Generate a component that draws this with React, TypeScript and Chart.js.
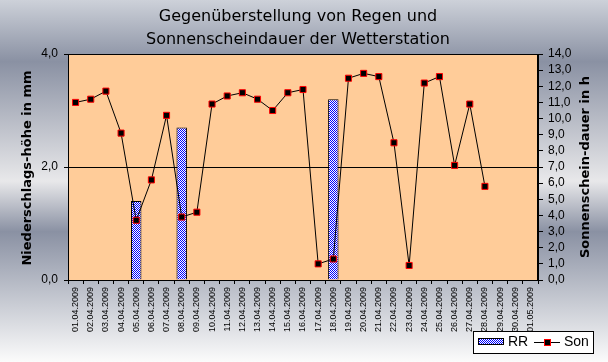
import React, { useEffect, useRef } from 'react';
import { Chart, registerables } from 'chart.js';

Chart.register(...registerables);

const titleLines = ['Gegenüberstellung von Regen und', 'Sonnenscheindauer der Wetterstation'];
const leftAxisTitle = 'Niederschlags-höhe in mm';
const rightAxisTitle = 'Sonnenschein-dauer in h';

const categories = [
  '01.04.2009', '02.04.2009', '03.04.2009', '04.04.2009', '05.04.2009', '06.04.2009',
  '07.04.2009', '08.04.2009', '09.04.2009', '10.04.2009', '11.04.2009', '12.04.2009',
  '13.04.2009', '14.04.2009', '15.04.2009', '16.04.2009', '17.04.2009', '18.04.2009',
  '19.04.2009', '20.04.2009', '21.04.2009', '22.04.2009', '23.04.2009', '24.04.2009',
  '25.04.2009', '26.04.2009', '27.04.2009', '28.04.2009', '29.04.2009', '30.04.2009',
  '01.05.2009',
];

const rainMm: (number | null)[] = [
  null, null, null, null, 1.4, null, null, 2.7, null, null, null, null, null, null, null, null,
  null, 3.2, null, null, null, null, null, null, null, null, null, null, null, null, null,
];

const sunHours: (number | null)[] = [
  11.0, 11.2, 11.7, 9.1, 3.7, 6.2, 10.2, 3.9, 4.2, 10.9, 11.4, 11.6, 11.2, 10.5, 11.6, 11.8,
  1.0, 1.3, 12.5, 12.8, 12.6, 8.5, 0.9, 12.2, 12.6, 7.1, 10.9, 5.8, null, null, null,
];

const seriesNames = ['RR', 'Son'];

const FONT = "'Liberation Sans', Arial, sans-serif";
const WIDE = "'DejaVu Sans', 'Liberation Sans', sans-serif";

function makePattern(): CanvasPattern | string {
  const c = document.createElement('canvas');
  c.width = 2;
  c.height = 2;
  const g = c.getContext('2d');
  if (!g) return '#8080ff';
  g.fillStyle = '#ffffff';
  g.fillRect(0, 0, 2, 2);
  g.fillStyle = '#0000ff';
  g.fillRect(0, 0, 1, 1);
  g.fillRect(1, 1, 1, 1);
  const p = g.createPattern(c, 'repeat');
  return p || '#8080ff';
}

const fmt = (v: number | string) => Number(v).toFixed(1).replace('.', ',');

export default function App() {
  const ref = useRef<HTMLCanvasElement | null>(null);

  useEffect(() => {
    const canvas = ref.current;
    if (!canvas) return;
    const pattern = makePattern();

    const decor = {
      id: 'decor',
      beforeDraw(chart: any) {
        const { ctx, width, height, chartArea } = chart;
        ctx.save();
        const g = ctx.createLinearGradient(0, 0, 0, height);
        g.addColorStop(0, '#cdd1d9');
        g.addColorStop(0.17, '#8a91a3');
        g.addColorStop(0.5, '#e8e8ea');
        g.addColorStop(0.64, '#8a91a3');
        g.addColorStop(1, '#fbfbfb');
        ctx.fillStyle = g;
        ctx.fillRect(0, 0, width, height);
        ctx.fillStyle = '#ffcc99';
        ctx.fillRect(chartArea.left, chartArea.top, chartArea.right - chartArea.left, chartArea.bottom - chartArea.top);
        ctx.restore();
      },
      afterDraw(chart: any) {
        const { ctx, chartArea } = chart;
        ctx.save();
        // plot border
        ctx.strokeStyle = '#000';
        ctx.lineWidth = 1;
        ctx.strokeRect(Math.round(chartArea.left) + 0.5, Math.round(chartArea.top) + 0.5,
          Math.round(chartArea.right - chartArea.left) - 1, Math.round(chartArea.bottom - chartArea.top));

        // title
        ctx.fillStyle = '#000';
        ctx.textAlign = 'center';
        ctx.textBaseline = 'alphabetic';
        ctx.font = `16px ${WIDE}`;
        ctx.fillText(titleLines[0], 298, 21);
        ctx.fillText(titleLines[1], 298, 43.5);

        // axis titles
        const midY = (chartArea.top + chartArea.bottom) / 2;
        ctx.textBaseline = 'middle';
        ctx.font = `bold 13px ${WIDE}`;
        ctx.save();
        ctx.translate(28, midY + 1);
        ctx.rotate(-Math.PI / 2);
        ctx.fillText(leftAxisTitle, 0, 0);
        ctx.restore();
        ctx.save();
        ctx.translate(586, midY);
        ctx.rotate(-Math.PI / 2);
        ctx.fillText(rightAxisTitle, 0, 0);
        ctx.restore();

        // legend
        ctx.fillStyle = '#ffffff';
        ctx.fillRect(473, 331, 120, 22);
        ctx.strokeStyle = '#000';
        ctx.strokeRect(473.5, 331.5, 120, 22);
        ctx.fillStyle = pattern as any;
        ctx.fillRect(478, 338, 26, 7);
        ctx.strokeRect(478.5, 338.5, 25, 6);
        ctx.fillStyle = '#000';
        ctx.textAlign = 'left';
        ctx.font = `14px ${FONT}`;
        ctx.fillText(seriesNames[0], 508, 342);
        ctx.beginPath();
        ctx.moveTo(534, 342.5);
        ctx.lineTo(560, 342.5);
        ctx.stroke();
        ctx.fillStyle = '#ff0000';
        ctx.fillRect(544, 339, 7, 7);
        ctx.fillStyle = '#000';
        ctx.fillRect(545, 340, 5, 5);
        ctx.fillText(seriesNames[1], 564, 342);
        ctx.restore();
      },
    };

    const chart = new Chart(canvas, {
      type: 'bar',
      data: {
        labels: categories,
        datasets: [
          {
            type: 'line',
            label: seriesNames[1],
            data: sunHours,
            yAxisID: 'y1',
            borderColor: '#000000',
            borderWidth: 1,
            pointStyle: 'rect',
            pointRadius: 4.3,
            pointBackgroundColor: '#000000',
            pointBorderColor: '#ff0000',
            pointBorderWidth: 1,
            tension: 0,
            spanGaps: false,
            order: 0,
          } as any,
          {
            type: 'bar',
            label: seriesNames[0],
            data: rainMm,
            yAxisID: 'y',
            backgroundColor: pattern as any,
            borderColor: '#000000',
            borderWidth: 1,
            barPercentage: 0.69,
            categoryPercentage: 1,
            order: 1,
          } as any,
        ],
      },
      options: {
        responsive: false,
        animation: false,
        layout: { padding: { top: 54, left: 0, right: 0, bottom: 0 } },
        plugins: {
          legend: { display: false },
          title: { display: false },
          tooltip: { enabled: false },
        },
        scales: {
          x: {
            offset: true,
            grid: { display: true, drawOnChartArea: false, offset: true, color: '#000', tickLength: 4 },
            border: { display: true, color: '#000' },
            ticks: {
              color: '#000',
              font: { family: FONT, size: 9 },
              minRotation: 90,
              maxRotation: 90,
              autoSkip: false,
              padding: 3,
            },
            afterFit(scale: any) {
              scale.height = 82;
            },
          },
          y: {
            position: 'left',
            min: 0,
            max: 4,
            ticks: {
              stepSize: 2,
              autoSkip: false,
              color: '#000',
              font: { family: FONT, size: 12 },
              padding: 6,
              callback: (v: any) => fmt(v),
            },
            grid: { display: true, drawOnChartArea: true, color: '#000', tickLength: 4 },
            border: { display: true, color: '#000' },
            afterFit(scale: any) {
              scale.width = 68;
            },
          },
          y1: {
            position: 'right',
            min: 0,
            max: 14,
            ticks: {
              stepSize: 1,
              autoSkip: false,
              color: '#000',
              font: { family: FONT, size: 12 },
              padding: 5,
              callback: (v: any) => fmt(v),
            },
            grid: { display: true, drawOnChartArea: false, color: '#000', tickLength: 5 },
            border: { display: true, color: '#000' },
            afterFit(scale: any) {
              scale.width = 70;
            },
          },
        },
      },
      plugins: [decor],
    });

    return () => chart.destroy();
  }, []);

  return (
    <div style={{ position: 'absolute', left: 0, top: 0, width: 608, height: 362 }}>
      <canvas ref={ref} width={608} height={362} style={{ display: 'block' }} />
    </div>
  );
}
